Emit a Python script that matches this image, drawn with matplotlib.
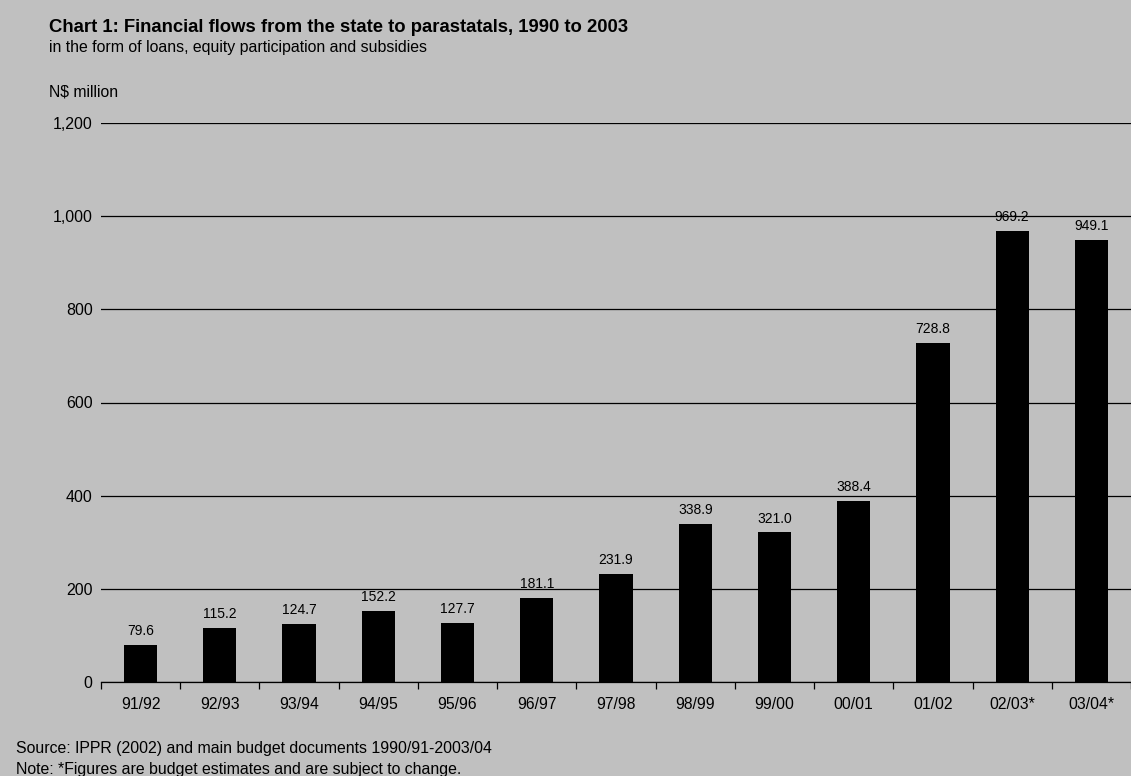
import matplotlib.pyplot as plt
import numpy as np

plt.rcParams['font.family'] = ['Liberation Sans', 'DejaVu Sans']

years = ['91/92', '92/93', '93/94', '94/95', '95/96', '96/97', '97/98',
         '98/99', '99/00', '00/01', '01/02', '02/03*', '03/04*']
flows = [79.6, 115.2, 124.7, 152.2, 127.7, 181.1, 231.9,
         338.9, 321.0, 388.4, 728.8, 969.2, 949.1]

bg = '#c0c0c0'
W, H = 1131, 776
fig = plt.figure(figsize=(W / 100, H / 100), dpi=100, facecolor=bg)
ax = fig.add_axes([101 / W, (H - 682) / H, 1030 / W, 559 / H])
ax.set_facecolor(bg)

x = np.arange(len(years))
ax.bar(x, flows, width=0.42, color='black', zorder=3)
for xi, v in zip(x, flows):
    ax.annotate('{:.1f}'.format(v), (xi, v), xytext=(0, 5), textcoords='offset points',
                ha='center', va='bottom', fontsize=10)

ax.set_xlim(-0.5, len(years) - 0.5)
ax.set_ylim(0, 1200)
ax.set_yticks(range(0, 1201, 200))
ax.set_yticklabels(['{:,}'.format(t) for t in range(0, 1201, 200)], fontsize=11.5)
ax.yaxis.grid(True, color='black', lw=0.9, zorder=1)
ax.tick_params(axis='y', length=0, pad=6)

ax.set_xticks(x)
ax.set_xticklabels(years, fontsize=11.3)
ax.set_xticks(np.arange(-0.5, len(years), 1), minor=True)
ax.tick_params(axis='x', which='major', length=0, pad=11)
ax.tick_params(axis='x', which='minor', length=5, width=0.9, direction='out')

for s in ['top', 'right', 'left']:
    ax.spines[s].set_visible(False)
ax.spines['bottom'].set_linewidth(0.9)

fig.text(49 / W, 1 - 32 / H, 'Chart 1: Financial flows from the state to parastatals, 1990 to 2003',
         fontsize=13.3, fontweight='bold', va='baseline')
fig.text(49 / W, 1 - 52 / H, 'in the form of loans, equity participation and subsidies',
         fontsize=11.4, va='baseline')
fig.text(49 / W, 1 - 97 / H, 'N$ million', fontsize=11.3, va='baseline')
fig.text(16 / W, 1 - 753 / H, 'Source: IPPR (2002) and main budget documents 1990/91-2003/04',
         fontsize=11.4, va='baseline')
fig.text(16 / W, 1 - 774 / H, 'Note: *Figures are budget estimates and are subject to change.',
         fontsize=11.4, va='baseline')

plt.savefig('out.png', dpi=100, facecolor=bg)
